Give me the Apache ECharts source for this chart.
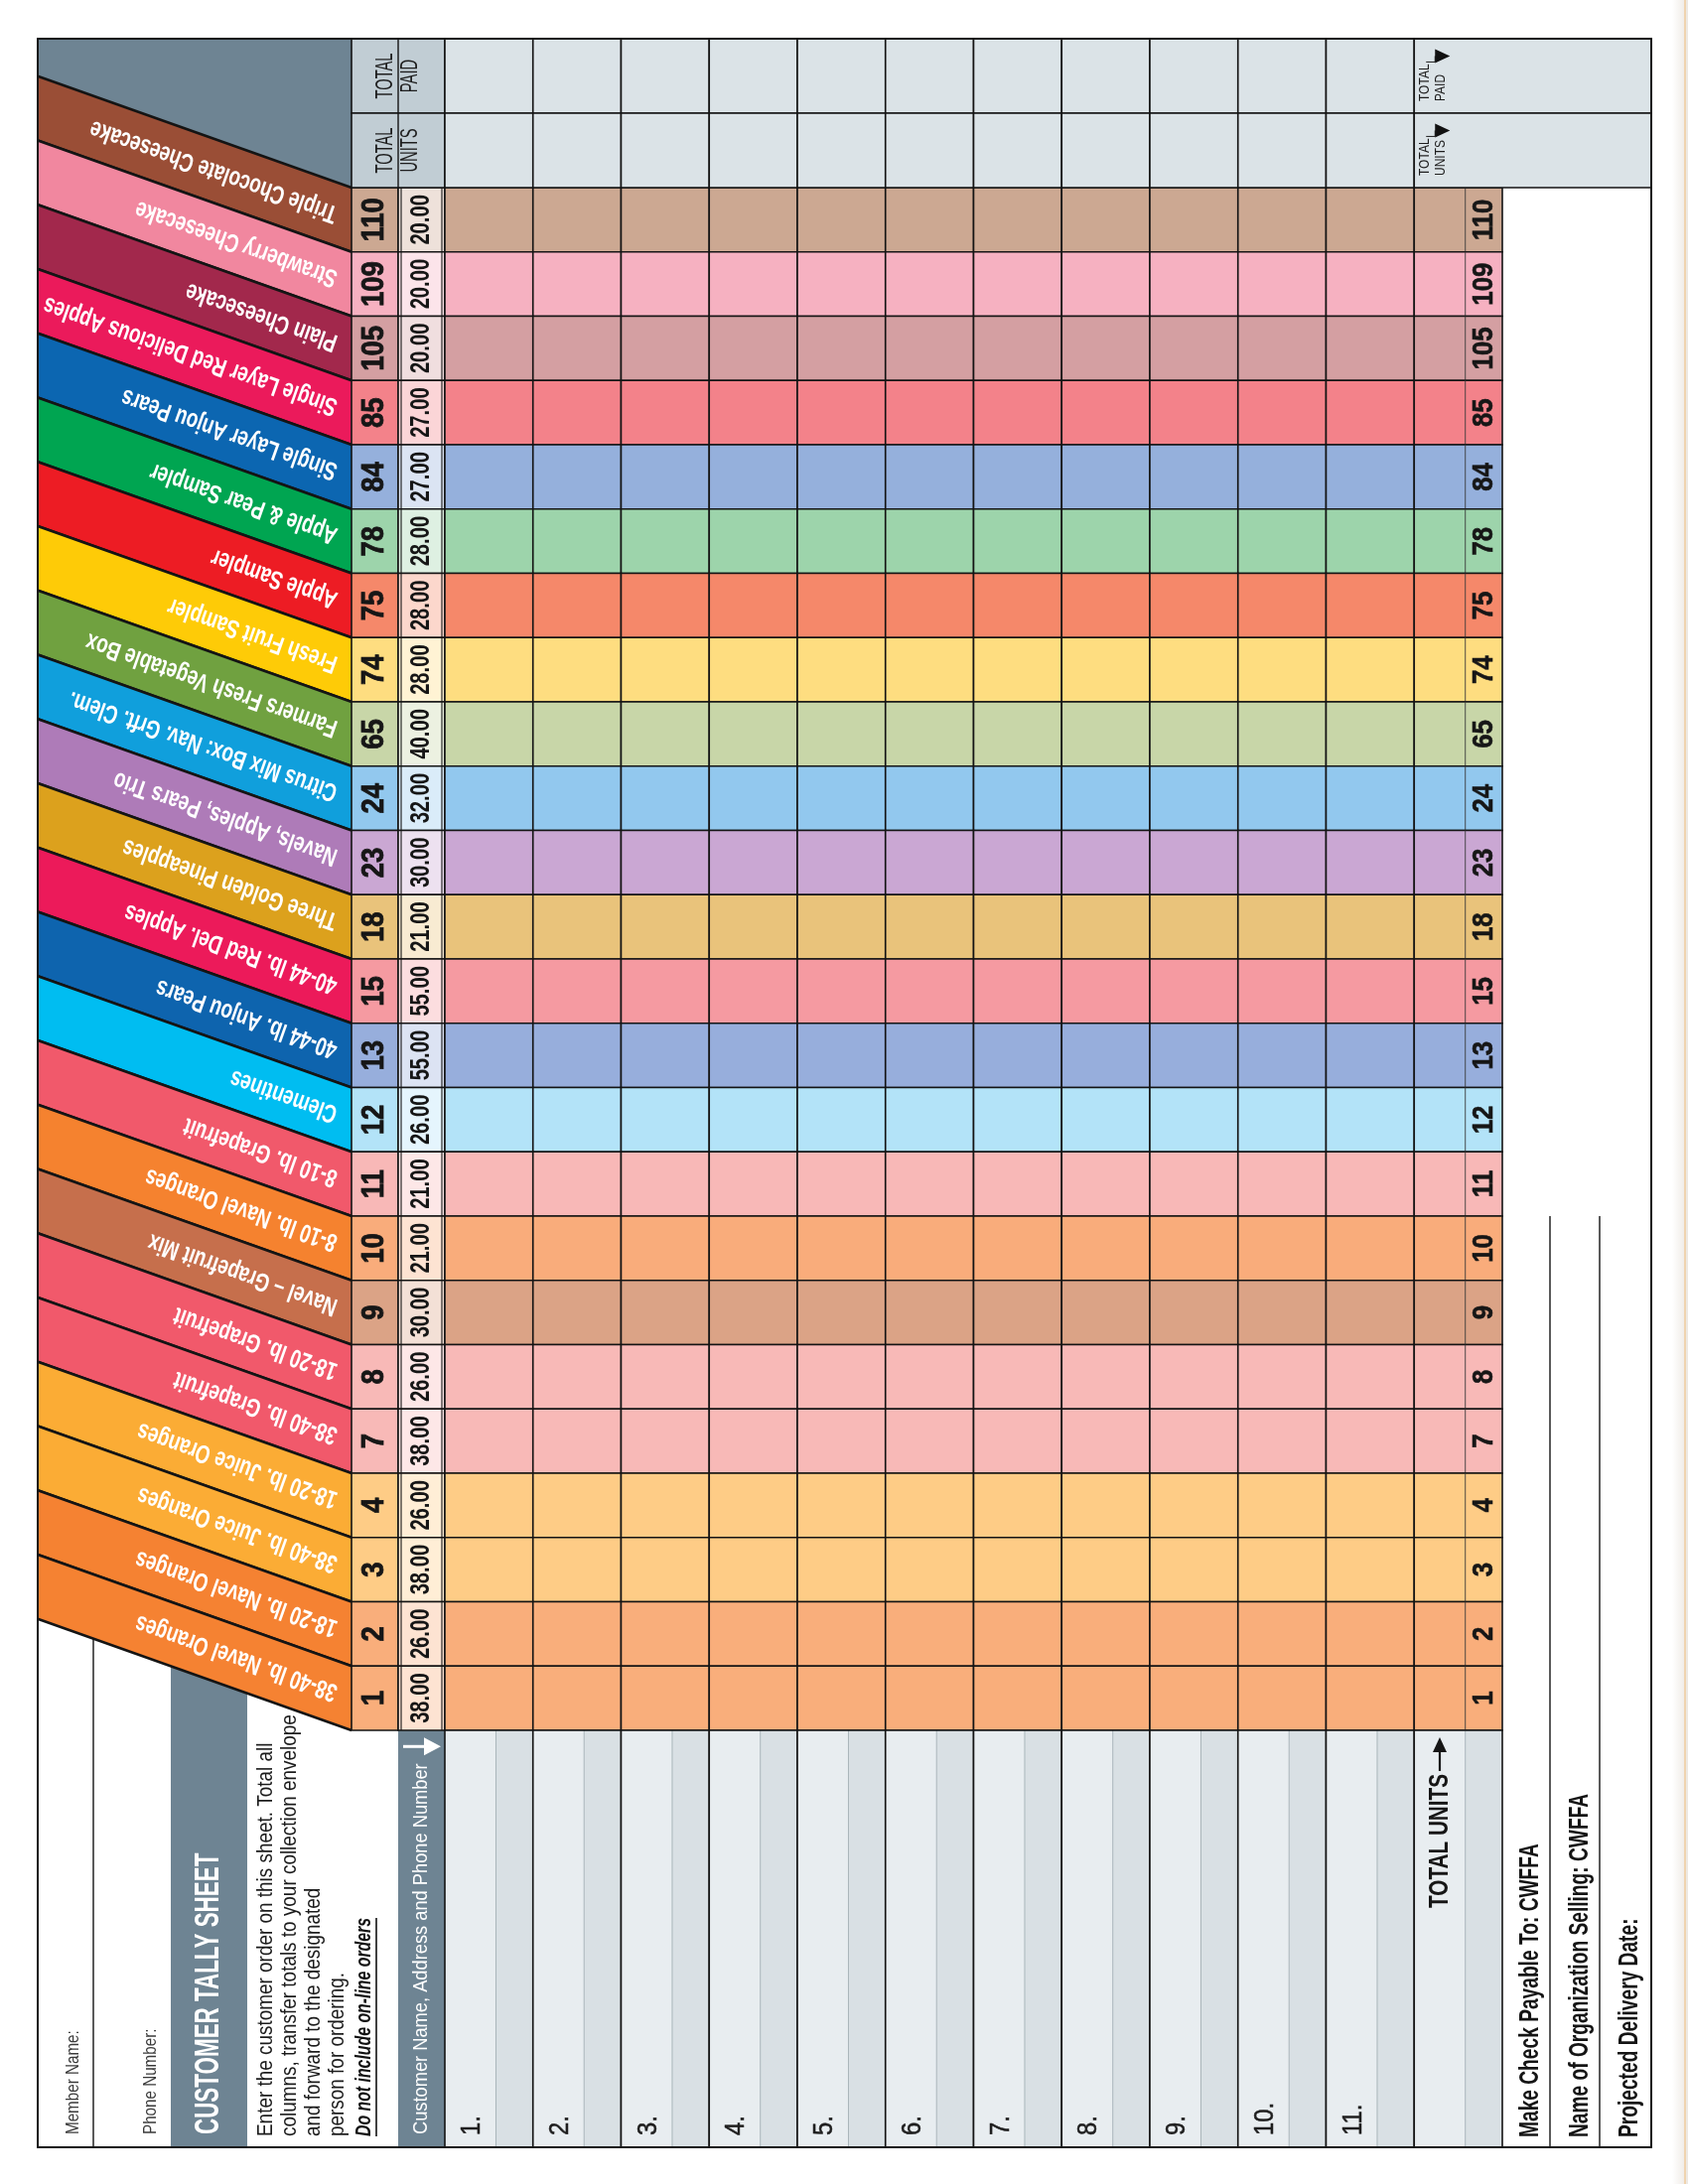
<!DOCTYPE html>
<html>
<head>
<meta charset="utf-8">
<title>Customer Tally Sheet</title>
<script src="https://cdn.jsdelivr.net/npm/echarts@6.0.0/dist/echarts.min.js"></script>
<style>
html,body{margin:0;padding:0;background:#ffffff;}
#chart{width:1700px;height:2200px;}
</style>
</head>
<body>
<div id="chart"></div>
<script>
// ---------------- DATA ----------------
const productNumbers = [110, 109, 105, 85, 84, 78, 75, 74, 65, 24, 23, 18, 15, 13, 12, 11, 10, 9, 8, 7, 4, 3, 2, 1];
const productNames = [
  'Triple Chocolate Cheesecake', 'Strawberry Cheesecake', 'Plain Cheesecake',
  'Single Layer Red Delicious Apples', 'Single Layer Anjou Pears', 'Apple & Pear Sampler',
  'Apple Sampler', 'Fresh Fruit Sampler', 'Farmers Fresh Vegetable Box',
  'Citrus Mix Box: Nav. Grft. Clem.', 'Navels, Apples, Pears Trio', 'Three Golden Pineapples',
  '40-44 lb. Red Del. Apples', '40-44 lb. Anjou Pears', 'Clementines',
  '8-10 lb. Grapefruit', '8-10 lb. Navel Oranges', 'Navel \u2013 Grapefruit Mix',
  '18-20 lb. Grapefruit', '38-40 lb. Grapefruit', '18-20 lb. Juice Oranges',
  '38-40 lb. Juice Oranges', '18-20 lb. Navel Oranges', '38-40 lb. Navel Oranges'
];
const productPrices = ['20.00', '20.00', '20.00', '27.00', '27.00', '28.00', '28.00', '28.00', '40.00', '32.00', '30.00', '21.00',
  '55.00', '55.00', '26.00', '21.00', '21.00', '30.00', '26.00', '38.00', '26.00', '38.00', '26.00', '38.00'];
const customerSlots = ['1.', '2.', '3.', '4.', '5.', '6.', '7.', '8.', '9.', '10.', '11.'];
const totalColumnLabel = 'TOTAL UNITS';
const headerRowLabels = ['TOTAL\nPAID', 'TOTAL\nUNITS'];
const sheetTitle = 'CUSTOMER TALLY SHEET';
const memberFields = ['Member Name:', 'Phone Number:'];
const instructionLines = [
  'Enter the customer order on this sheet. Total all',
  'columns, transfer totals to your collection envelope',
  'and forward to the designated',
  'person for ordering.'
];
const instructionNote = 'Do not include on-line orders';
const customerColumnTitle = 'Customer Name, Address and Phone Number';
const footerFields = ['Make Check Payable To: CWFFA', 'Name of Organization Selling: CWFFA', 'Projected Delivery Date:'];

// ---------------- STYLE ----------------
const bandColors = ['#9a4e36', '#f1879f', '#a2284c', '#eb1a5b', '#0c66b1', '#00a551', '#ed1c24', '#fecb07',
  '#70a140', '#109fdc', '#ae7bb8', '#dca11d', '#ec1a5a', '#0e64ae', '#00bdf1', '#f1596b',
  '#f5822f', '#c66f4c', '#f1596b', '#f1596b', '#fbac35', '#fbac35', '#f58232', '#f58232'];
const cellColors = ['#cca892', '#f6b1c1', '#d49fa2', '#f3828a', '#95b0dc', '#9dd4ab', '#f5886a', '#fedd80',
  '#c8d6a8', '#92c8ee', '#caa7d3', '#e9c37b', '#f59aa1', '#97aedc', '#b3e3f8', '#f8b8b7',
  '#f9ac7b', '#dba386', '#f8b9b7', '#f8b9b7', '#fecc86', '#fecc86', '#f9ae7b', '#f9ae7b'];
const GREY = '#6e8493';
const HDR_DARK = '#c1cdd4';
const HDR_LIGHT = '#dbe3e7';
const STRIPE_LIGHT = '#e8edf0';
const STRIPE_DARK = '#d9e0e4';
const LINE = '#141414';
const INK = '#161616';
const SANS = '"Liberation Sans", Arial, Helvetica, sans-serif';

// ---------------- LAYOUT ----------------
const FR = { l: 38, t: 39, r: 1663, b: 2163 };
const ROW_T = 189, ROW_B = 1743;
const NUM_L = 354, PRICE_L = 401, CUST_L = 448, TOT_R = 1513;
const SLOPE = 0.355;
const ANG = Math.atan(SLOPE);
const NCOLS = customerSlots.length + 1;
const COL_W = (TOT_R - CUST_L) / NCOLS;
const SPLIT = 0.58;
const ROW_H = (ROW_B - ROW_T) / productNumbers.length;
const MEMBER_SPLIT_X = 94, TITLE_L = 172, TITLE_R = 249;
const FIELD_LINES_X = [1561, 1611];

function mix(hex, t) {
  const n = parseInt(hex.slice(1), 16);
  const r = (n >> 16) & 255, g = (n >> 8) & 255, b = n & 255;
  const f = v => Math.round(v + (255 - v) * t);
  return 'rgb(' + f(r) + ',' + f(g) + ',' + f(b) + ')';
}
const measureCtx = document.createElement('canvas').getContext('2d');
function textWidth(text, font) { measureCtx.font = font; return measureCtx.measureText(text).width; }

function txt(x, y, text, font, fill, o) {
  o = o || {};
  const st = { text: text, font: font, fill: fill,
    align: o.align || 'left', textAlign: o.align || 'left',
    verticalAlign: o.va || 'middle', textVerticalAlign: o.va || 'middle' };
  if (o.lh) st.lineHeight = o.lh;
  if (o.stroke) { st.stroke = o.stroke; st.lineWidth = o.sw || 0.6; }
  const el = { type: 'text', x: x, y: y, rotation: o.rot == null ? Math.PI / 2 : o.rot,
    scaleX: o.sx || 1, style: st, silent: true };
  if (o.z != null) el.z = o.z;
  return el;
}

// ---------------- RENDERERS ----------------
function renderBand(params, api) {
  const i = params.dataIndex;
  const c = api.coord([0, i]);
  const s = api.size([1, 1]);
  const xr = c[0] - s[0] / 2;
  const y0 = c[1] - s[1] / 2, y1 = c[1] + s[1] / 2;
  const dy = (xr - FR.l) * SLOPE;
  const d = 16;
  return { type: 'group', children: [
    { type: 'polygon', shape: { points: [[xr, y0], [xr, y1], [FR.l, y1 - dy], [FR.l, y0 - dy]] }, style: { fill: bandColors[i] } },
    { type: 'line', shape: { x1: xr, y1: y0, x2: FR.l, y2: y0 - dy }, style: { stroke: LINE, lineWidth: 2.6 } },
    { type: 'line', shape: { x1: xr, y1: y1, x2: FR.l, y2: y1 - dy }, style: { stroke: LINE, lineWidth: 2.6 } },
    txt(xr - d * Math.cos(ANG), c[1] - d * Math.sin(ANG), productNames[i], 'bold 26px ' + SANS, '#ffffff',
      { rot: Math.PI - ANG, sx: 0.73 })
  ] };
}

function renderNum(params, api) {
  const i = params.dataIndex;
  const c = api.coord([0, i]);
  const s = api.size([1, 1]);
  return { type: 'group', children: [
    { type: 'rect', shape: { x: c[0] - s[0] / 2, y: c[1] - s[1] / 2, width: s[0], height: s[1] },
      style: { fill: cellColors[i], stroke: LINE, lineWidth: 1.6 } },
    txt(c[0], c[1], String(productNumbers[i]), 'bold 32px ' + SANS, INK, { align: 'center', sx: 0.86, stroke: INK, sw: 0.8 })
  ] };
}

function renderPrice(params, api) {
  const i = params.dataIndex;
  const c = api.coord([0, i]);
  const s = api.size([1, 1]);
  const x0 = c[0] - s[0] / 2, x1 = c[0] + s[0] / 2, y0 = c[1] - s[1] / 2, y1 = c[1] + s[1] / 2;
  return { type: 'group', children: [
    { type: 'rect', shape: { x: x0, y: y0, width: s[0], height: s[1] },
      style: { fill: mix(cellColors[i], 0.66), stroke: LINE, lineWidth: 1.6 } },
    { type: 'line', shape: { x1: x0 + 3, y1: y0, x2: x0 + 3, y2: y1 }, style: { stroke: LINE, lineWidth: 1.1 } },
    { type: 'line', shape: { x1: x1 - 3, y1: y0, x2: x1 - 3, y2: y1 }, style: { stroke: LINE, lineWidth: 1.1 } },
    txt(c[0], c[1], productPrices[i], 'bold 28px ' + SANS, INK, { align: 'center', sx: 0.72 })
  ] };
}

function renderCell(params, api) {
  const col = api.value(0), row = api.value(1);
  const c = api.coord([col, row]);
  const s = api.size([1, 1]);
  const x0 = c[0] - s[0] / 2, y0 = c[1] - s[1] / 2;
  const ch = [{ type: 'rect', shape: { x: x0, y: y0, width: s[0], height: s[1] },
    style: { fill: cellColors[row], stroke: LINE, lineWidth: 1.6 } }];
  if (col === customerSlots.length) {
    const xs = x0 + s[0] * SPLIT;
    ch.push({ type: 'line', shape: { x1: xs, y1: y0, x2: xs, y2: y0 + s[1] }, style: { stroke: '#3a3a3a', lineWidth: 0.9 } });
    ch.push(txt((xs + x0 + s[0]) / 2, c[1], String(productNumbers[row]), 'bold 30px ' + SANS, INK, { align: 'center', sx: 0.86, stroke: INK, sw: 0.6 }));
  }
  return { type: 'group', children: ch };
}

function renderHdrLeft(params, api) {
  const r = params.dataIndex;
  const c = api.coord([0, r]);
  const s = api.size([1, 1]);
  const x0 = c[0] - s[0] / 2, y0 = c[1] - s[1] / 2;
  return { type: 'group', children: [
    { type: 'rect', shape: { x: x0, y: y0, width: 2 * s[0], height: s[1] }, style: { fill: HDR_DARK, stroke: LINE, lineWidth: 1.6 } },
    { type: 'line', shape: { x1: x0 + s[0], y1: y0, x2: x0 + s[0], y2: y0 + s[1] }, style: { stroke: LINE, lineWidth: 1.4 } },
    txt(x0 + s[0], c[1], headerRowLabels[r], '23px ' + SANS, '#1e1e1e', { align: 'center', sx: 0.64, lh: 25 })
  ] };
}

function renderHdrCell(params, api) {
  const c = api.coord([api.value(0), api.value(1)]);
  const s = api.size([1, 1]);
  return { type: 'rect', shape: { x: c[0] - s[0] / 2, y: c[1] - s[1] / 2, width: s[0], height: s[1] },
    style: { fill: HDR_LIGHT, stroke: LINE, lineWidth: 1.6 } };
}

function renderHdrTail(params, api) {
  const r = params.dataIndex;
  const c = api.coord([0, r]);
  const s = api.size([1, 1]);
  const x0 = c[0] - s[0] / 2, y0 = c[1] - s[1] / 2, y1 = y0 + s[1];
  const font = '15px ' + SANS, sx = 0.8;
  const tx = x0 + 19, ty = y1 - 12;
  const len = Math.max.apply(null, headerRowLabels[r].split('\n').map(t => textWidth(t, font))) * sx;
  const ye = ty - len - 2;
  return { type: 'group', children: [
    { type: 'rect', shape: { x: x0, y: y0, width: s[0], height: s[1] }, style: { fill: HDR_LIGHT, stroke: LINE, lineWidth: 1.6 } },
    txt(tx, ty, headerRowLabels[r], font, '#1e1e1e', { sx: sx, lh: 16 }),
    { type: 'line', shape: { x1: tx - 7, y1: ye, x2: tx + 2, y2: ye }, style: { stroke: '#1e1e1e', lineWidth: 1 } },
    { type: 'line', shape: { x1: tx + 2, y1: ye, x2: tx + 2, y2: ye - 6 }, style: { stroke: '#1e1e1e', lineWidth: 1 } },
    { type: 'polygon', shape: { points: [[tx + 2, ye - 13], [tx + 2, ye + 1], [tx + 17, ye - 6]] }, style: { fill: '#111' } }
  ] };
}

function renderFoot(params, api) {
  const col = params.dataIndex;
  const c = api.coord([col, 0]);
  const s = api.size([1, 1]);
  const x0 = c[0] - s[0] / 2, y0 = c[1] - s[1] / 2, h = s[1];
  const xs = x0 + s[0] * SPLIT;
  const cx = (x0 + xs) / 2;
  const ch = [
    { type: 'rect', shape: { x: x0, y: y0, width: xs - x0, height: h }, style: { fill: STRIPE_LIGHT } },
    { type: 'rect', shape: { x: xs, y: y0, width: x0 + s[0] - xs, height: h }, style: { fill: STRIPE_DARK } },
    { type: 'line', shape: { x1: xs, y1: y0, x2: xs, y2: y0 + h }, style: { stroke: '#a9b4ba', lineWidth: 1 } },
    { type: 'rect', shape: { x: x0, y: y0, width: s[0], height: h }, style: { fill: null, stroke: LINE, lineWidth: 1.6 } }
  ];
  if (col < customerSlots.length) {
    ch.push(txt(cx + 2, y0 + h - 12, customerSlots[col], '27px ' + SANS, '#1e1e1e', { sx: 0.88, stroke: '#1e1e1e', sw: 0.5 }));
  } else {
    const font = 'bold 28px ' + SANS, sx = 0.74;
    const ty = y0 + 179;
    const len = textWidth(totalColumnLabel, font) * sx;
    ch.push(txt(cx, ty, totalColumnLabel, font, INK, { sx: sx }));
    const ye = ty - len - 3;
    ch.push({ type: 'line', shape: { x1: cx, y1: ye, x2: cx, y2: y0 + 20 }, style: { stroke: INK, lineWidth: 2.2 } });
    ch.push({ type: 'polygon', shape: { points: [[cx - 7, y0 + 22], [cx + 7, y0 + 22], [cx, y0 + 7]] }, style: { fill: INK } });
  }
  return { type: 'group', children: ch };
}

// ---------------- GRAPHIC (static sheet parts) ----------------
const graphics = [];
graphics.push({ type: 'polygon', z: 0, silent: true,
  shape: { points: [[FR.l, FR.t], [NUM_L, FR.t], [NUM_L, ROW_T], [FR.l, ROW_T - (NUM_L - FR.l) * SLOPE]] },
  style: { fill: GREY } });
graphics.push({ type: 'polygon', z: 0, silent: true,
  shape: { points: [[TITLE_L, ROW_B - (NUM_L - TITLE_L) * SLOPE], [TITLE_R, ROW_B - (NUM_L - TITLE_R) * SLOPE], [TITLE_R, FR.b], [TITLE_L, FR.b]] },
  style: { fill: GREY } });
graphics.push({ type: 'rect', z: 0, silent: true,
  shape: { x: PRICE_L, y: ROW_B, width: CUST_L - PRICE_L, height: FR.b - ROW_B }, style: { fill: GREY } });
graphics.push({ type: 'line', z: 10, silent: true,
  shape: { x1: MEMBER_SPLIT_X, y1: ROW_B - (NUM_L - MEMBER_SPLIT_X) * SLOPE, x2: MEMBER_SPLIT_X, y2: FR.b },
  style: { stroke: LINE, lineWidth: 1.4 } });

// member fields
const memberX = [74, 152];
memberFields.forEach((t, i) => graphics.push(txt(memberX[i], FR.b - 13, t, '19px ' + SANS, '#3a3a3a', { sx: 0.8, z: 20 })));
// title
graphics.push(txt((TITLE_L + TITLE_R) / 2, FR.b - 13, sheetTitle, 'bold 35px ' + SANS, '#ffffff', { sx: 0.64, z: 20 }));
// instructions
const instrX = [268, 292, 316, 340];
instructionLines.forEach((t, i) => graphics.push(txt(instrX[i], FR.b - 11, t, '22px ' + SANS, '#1c1c1c', { sx: 0.86, z: 20 })));
const noteFont = 'italic bold 22px ' + SANS, noteSx = 0.72;
graphics.push(txt(367, FR.b - 11, instructionNote, noteFont, '#111', { sx: noteSx, z: 20 }));
const noteLen = textWidth(instructionNote, noteFont) * noteSx;
graphics.push({ type: 'line', z: 20, silent: true,
  shape: { x1: 379, y1: FR.b - 11, x2: 379, y2: FR.b - 11 - noteLen }, style: { stroke: '#111', lineWidth: 1.6 } });
// customer column title + arrow
const ccFont = '21px ' + SANS, ccSx = 0.87;
const ccX = (PRICE_L + CUST_L) / 2;
graphics.push(txt(ccX, FR.b - 13, customerColumnTitle, ccFont, '#ffffff', { sx: ccSx, z: 20 }));
const ccEnd = FR.b - 13 - textWidth(customerColumnTitle, ccFont) * ccSx;
graphics.push({ type: 'line', z: 20, silent: true, shape: { x1: PRICE_L + 5, y1: ccEnd - 17, x2: PRICE_L + 28, y2: ccEnd - 17 }, style: { stroke: '#fff', lineWidth: 3 } });
graphics.push({ type: 'polygon', z: 20, silent: true, shape: { points: [[PRICE_L + 26, ccEnd - 26], [PRICE_L + 26, ccEnd - 8], [CUST_L - 4, ccEnd - 17]] }, style: { fill: '#fff' } });

// footer field lines & texts
FIELD_LINES_X.forEach(x => graphics.push({ type: 'line', z: 10, silent: true,
  shape: { x1: x, y1: ROW_T + 16 * ROW_H, x2: x, y2: FR.b }, style: { stroke: LINE, lineWidth: 1.4 } }));
const fieldX = [1542, 1592, 1642];
footerFields.forEach((t, i) => graphics.push(txt(fieldX[i], FR.b - 10, t, 'bold 27px ' + SANS, '#141414', { sx: 0.71, z: 20 })));

// outer frame
graphics.push({ type: 'rect', z: 30, silent: true,
  shape: { x: FR.l, y: FR.t, width: FR.r - FR.l, height: FR.b - FR.t }, style: { fill: null, stroke: LINE, lineWidth: 2 } });
// scanner edge shadow at the right border
graphics.push({ type: 'rect', z: 0, silent: true, shape: { x: 1684, y: 0, width: 16, height: 2200 },
  style: { fill: new echarts.graphic.LinearGradient(0, 0, 1, 0, [{ offset: 0, color: '#ffffff' }, { offset: 1, color: '#ece7e1' }]) } });
graphics.push({ type: 'line', z: 0, silent: true, shape: { x1: 1697, y1: 0, x2: 1697, y2: 2200 },
  style: { stroke: '#efb56a', lineWidth: 1.5, opacity: 0.6 } });

// ---------------- AXES / GRIDS ----------------
const prodY = { type: 'category', data: productNumbers.map(String), inverse: true, show: false };
const grids = [
  { left: NUM_L, top: ROW_T, width: PRICE_L - NUM_L, height: ROW_B - ROW_T },
  { left: PRICE_L, top: ROW_T, width: CUST_L - PRICE_L, height: ROW_B - ROW_T },
  { left: CUST_L, top: ROW_T, width: TOT_R - CUST_L, height: ROW_B - ROW_T },
  { left: NUM_L, top: FR.t, width: CUST_L - NUM_L, height: ROW_T - FR.t },
  { left: CUST_L, top: FR.t, width: COL_W * customerSlots.length, height: ROW_T - FR.t },
  { left: CUST_L + COL_W * customerSlots.length, top: FR.t, width: FR.r - (CUST_L + COL_W * customerSlots.length), height: ROW_T - FR.t },
  { left: CUST_L, top: ROW_B, width: TOT_R - CUST_L, height: FR.b - ROW_B }
];
const xAxes = [
  { gridIndex: 0, type: 'category', data: ['No.'], show: false },
  { gridIndex: 1, type: 'category', data: ['Price'], show: false },
  { gridIndex: 2, type: 'category', data: customerSlots.concat([totalColumnLabel]), show: false },
  { gridIndex: 3, type: 'category', data: ['No.', 'Price'], show: false },
  { gridIndex: 4, type: 'category', data: customerSlots, show: false },
  { gridIndex: 5, type: 'category', data: ['Totals'], show: false },
  { gridIndex: 6, type: 'category', data: customerSlots.concat([totalColumnLabel]), show: false }
];
const yAxes = [
  Object.assign({ gridIndex: 0 }, prodY),
  Object.assign({ gridIndex: 1 }, prodY),
  Object.assign({ gridIndex: 2 }, prodY),
  { gridIndex: 3, type: 'category', data: headerRowLabels, inverse: true, show: false },
  { gridIndex: 4, type: 'category', data: headerRowLabels, inverse: true, show: false },
  { gridIndex: 5, type: 'category', data: headerRowLabels, inverse: true, show: false },
  { gridIndex: 6, type: 'category', data: ['Customer'], show: false }
];

const cellData = [];
productNumbers.forEach((p, r) => { for (let c = 0; c < NCOLS; c++) cellData.push([c, r]); });
const hdrCellData = [];
headerRowLabels.forEach((h, r) => customerSlots.forEach((cs, c) => hdrCellData.push([c, r])));

function cs(idx, data, fn, z) {
  return { type: 'custom', xAxisIndex: idx, yAxisIndex: idx, data: data, renderItem: fn, silent: true, clip: false, z: z || 2 };
}

const option = {
  backgroundColor: '#ffffff',
  animation: false,
  grid: grids,
  xAxis: xAxes,
  yAxis: yAxes,
  graphic: { elements: graphics },
  series: [
    cs(0, productNames.map((n, i) => [0, i]), renderBand, 3),
    cs(0, productNumbers.map((n, i) => [0, i]), renderNum, 4),
    cs(1, productPrices.map((n, i) => [0, i]), renderPrice, 4),
    cs(2, cellData, renderCell, 4),
    cs(3, headerRowLabels.map((n, i) => [0, i]), renderHdrLeft, 4),
    cs(4, hdrCellData, renderHdrCell, 4),
    cs(5, headerRowLabels.map((n, i) => [0, i]), renderHdrTail, 4),
    cs(6, customerSlots.concat([totalColumnLabel]).map((n, i) => [i, 0]), renderFoot, 4)
  ]
};

const chart = echarts.init(document.getElementById('chart'), null, { renderer: 'canvas', width: 1700, height: 2200 });
chart.setOption(option);
</script>
</body>
</html>
